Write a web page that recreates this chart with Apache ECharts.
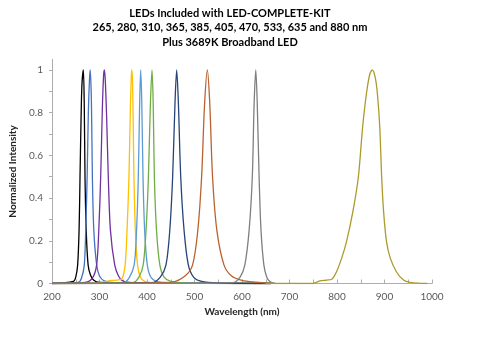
<!DOCTYPE html>
<html><head><meta charset="utf-8">
<script src="https://cdn.jsdelivr.net/npm/echarts@6/dist/echarts.min.js"></script>
<style>html,body{margin:0;padding:0;background:#fff}#c{width:480px;height:339px}</style>
</head><body><div id="c"></div>
<script>
// ---- data ----
const titleLines = ['LEDs Included with LED-COMPLETE-KIT','265, 280, 310, 365, 385, 405, 470, 533, 635 and 880 nm','Plus 3689K Broadband LED'];
const xTickLabels = [200,300,400,500,600,700,800,900,1000];
const yTickValues = [0,0.1,0.2,0.3,0.4,0.5,0.6,0.7,0.8,0.9,1];
const yLabelValues = [0,0.2,0.4,0.6,0.8,1];

const seriesNames = ['265 nm','280 nm','310 nm','365 nm','385 nm','405 nm','470 nm','533 nm','635 nm','880 nm'];

const wl265 = [200,245,250,254,257,259,261,263,266,268,269.5,272,276,281,288,300,400,660];
const in265 = [0,0.01,0.03,0.087,0.25,0.5,0.75,0.93,1,0.82,0.5,0.25,0.087,0.04,0.015,0.005,0.002,0];

const wl280 = [200,255,262,268,271,274,276.5,279,280.5,283,285,288,294,300,310,330,660];
const in280 = [0,0.005,0.025,0.087,0.25,0.5,0.8,0.96,1,0.85,0.5,0.25,0.087,0.035,0.012,0.004,0];

const wl310 = [200,270,285,294,298.5,302.5,306,308.5,310,312,315,318.5,323,332,340,349,370,660];
const in310 = [0,0.005,0.025,0.087,0.25,0.5,0.82,0.97,1,0.96,0.78,0.5,0.25,0.087,0.035,0.012,0.004,0];

const wl365 = [200,290,310,325,340,348,354,358,362,365,367,368,369.5,371,372.5,375.5,380,386,395,420,660];
const in365 = [0,0.002,0.008,0.014,0.017,0.025,0.087,0.25,0.5,0.82,0.97,1,0.95,0.75,0.5,0.25,0.087,0.03,0.01,0.003,0];

const wl385 = [200,350,362,373,378,381.7,384.5,386.7,389,391.6,395,400.6,408,420,450,660];
const in385 = [0,0.004,0.025,0.087,0.25,0.5,0.84,1,0.85,0.5,0.25,0.087,0.03,0.01,0.003,0];

const wl405 = [200,370,383,392,398,403,407,410.5,413,415.5,420,427,436,450,480,660];
const in405 = [0,0.004,0.03,0.087,0.25,0.5,0.83,1,0.85,0.5,0.25,0.087,0.03,0.01,0.003,0];

const wl470 = [200,410,428,440,448,454,459,462.5,466,471,478,487,498,515,550,660];
const in470 = [0,0.004,0.03,0.087,0.25,0.5,0.85,1,0.85,0.5,0.25,0.087,0.03,0.01,0.003,0];

const wl533 = [200,450,480,496,507,515,521,527,532,538,547,562,578,600,630,660];
const in533 = [0,0.005,0.035,0.087,0.25,0.5,0.83,1,0.85,0.5,0.25,0.087,0.035,0.015,0.006,0];

const wl635 = [200,580,596,606,615,621.7,625.5,629,632,636,640,646,652,659,670];
const in635 = [0,0.004,0.03,0.087,0.25,0.5,0.84,1,0.85,0.5,0.25,0.087,0.03,0.008,0];

const wl880 = [650,700,750,757,764,778,789,799,810,820,834,845,854,862,869,874,880,885,890,894,898,904,912,925,940,954,975,990];
const in880 = [0,0,0,0.006,0.012,0.016,0.02,0.055,0.12,0.196,0.344,0.5,0.734,0.89,0.98,1,0.97,0.89,0.734,0.5,0.34,0.2,0.12,0.055,0.016,0.005,0.001,0];

const colors = ['#000000','#4472C4','#7030A0','#FFC000','#5B9BD5','#70AD47','#264478','#B8632F','#7F7F7F','#AD9A2C'];
// ----------------------------------------------

const wls = [wl265,wl280,wl310,wl365,wl385,wl405,wl470,wl533,wl635,wl880];
const ins = [in265,in280,in310,in365,in385,in405,in470,in533,in635,in880];
const FONT = 'Lato, "Open Sans", sans-serif';

const chart = echarts.init(document.getElementById('c'), null, {renderer:'canvas'});
chart.setOption({
  animation: false,
  backgroundColor: '#fff',
  title: {
    text: titleLines.join('\n'),
    left: 225, top: 1, textAlign: 'center',
    textStyle: {fontFamily: FONT, fontSize: 11, fontWeight: 'bold', color: '#000', lineHeight: 14.5}
  },
  grid: {left: 52, right: 48, top: 59.3, bottom: 55.5, containLabel: false},
  xAxis: {
    type: 'value', min: 200, max: 1000, interval: 50,
    name: 'Wavelength (nm)', nameLocation: 'middle', nameGap: 22,
    nameTextStyle: {fontFamily: FONT, fontSize: 10, fontWeight: 'bold', color: '#262626'},
    axisLine: {lineStyle: {color: '#ADADAD', width: 1}},
    axisTick: {inside: true, length: 4, lineStyle: {color: '#ADADAD'}},
    axisLabel: {fontFamily: FONT, fontSize: 10, color: '#595959', margin: 8,
      formatter: v => (xTickLabels.indexOf(v) >= 0 ? String(v) : '')},
    splitLine: {show: false}
  },
  yAxis: {
    type: 'value', min: 0, max: 1.05,
    name: 'Normalized Intensity', nameLocation: 'middle', nameGap: 31,
    nameTextStyle: {fontFamily: FONT, fontSize: 10, fontWeight: 'bold', color: '#262626'},
    axisLine: {show: true, lineStyle: {color: '#ADADAD', width: 1}},
    axisTick: {show: true, length: 3, lineStyle: {color: '#ADADAD'}, customValues: yTickValues},
    axisLabel: {fontFamily: FONT, fontSize: 10, color: '#595959', margin: 9, customValues: yLabelValues},
    splitLine: {show: false}
  },
  series: seriesNames.map((n, i) => ({
    name: n, type: 'line', showSymbol: false, smooth: 0.3,
    data: wls[i].map((w, j) => [w, ins[i][j]]),
    lineStyle: {color: colors[i], width: 1.3},
    itemStyle: {color: colors[i]}
  }))
});
</script></body></html>
